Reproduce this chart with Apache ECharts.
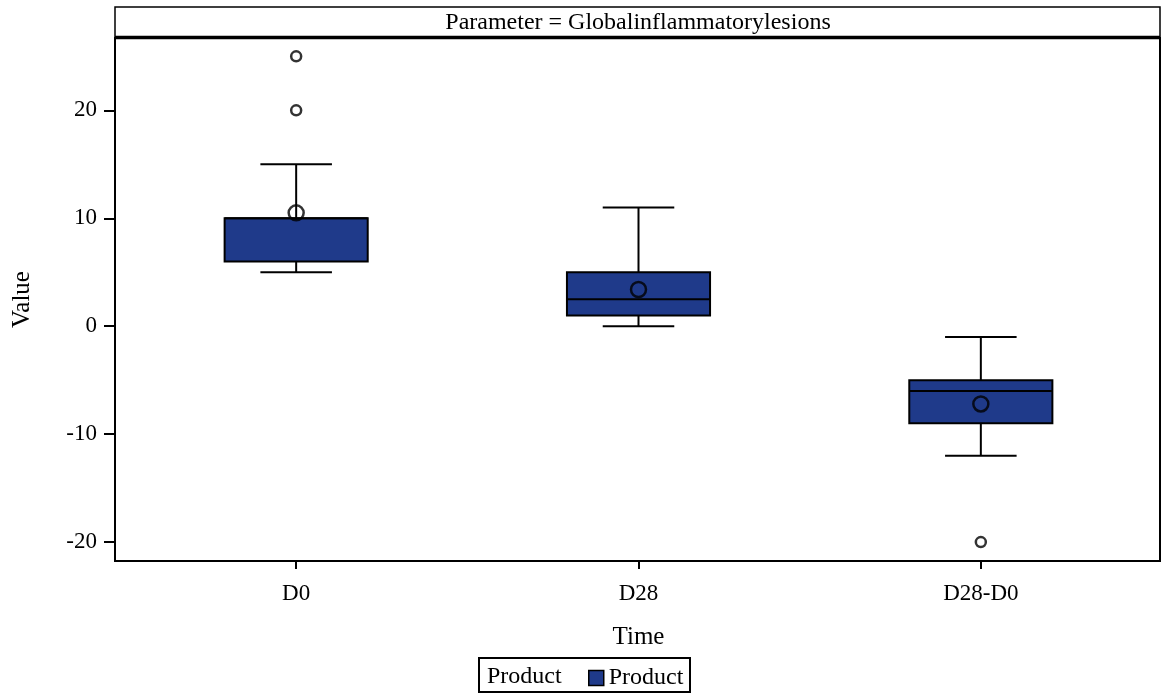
<!DOCTYPE html>
<html><head><meta charset="utf-8">
<script src="https://cdn.jsdelivr.net/npm/echarts@6/dist/echarts.min.js"></script>
<style>html,body{margin:0;padding:0;background:#fff}#c{width:1165px;height:696px}</style>
</head><body><div id="c"></div>
<script>
const categories = ['D0', 'D28', 'D28-D0'];
// [low whisker, Q1, median, Q3, high whisker]
const boxStats = [
  [5, 6, 10, 10, 15],
  [0, 1, 2.5, 5, 11],
  [-12, -9, -6, -5, -1]
];
const means = [10.5, 3.4, -7.2];
const outliers = [[0, 20], [0, 25], [2, -20]];
const yTicks = [-20, -10, 0, 10, 20];

const FONT = 'Liberation Serif';
const BOX = '#1F3A8A';
const chart = echarts.init(document.getElementById('c'));

const boxData = boxStats.map((s, i) => [i].concat(s));
const meanData = means.map((m, i) => [i, m]);

chart.setOption({
  animation: false,
  textStyle: { fontFamily: FONT, color: '#000' },
  grid: { left: 125, right: 13, top: 38, bottom: 135 },
  xAxis: {
    type: 'category', data: categories,
    axisLine: { show: false, onZero: false },
    axisTick: { show: true, alignWithLabel: true, length: 8, lineStyle: { color: '#000', width: 2 } },
    axisLabel: { fontFamily: FONT, fontSize: 23, color: '#000', margin: 21 },
    name: 'Time', nameLocation: 'middle', nameGap: 64,
    nameTextStyle: { fontFamily: FONT, fontSize: 25, color: '#000' },
    splitLine: { show: false }
  },
  yAxis: {
    type: 'value', min: -21.75, max: 26.7, offset: 10,
    axisLine: { show: true, lineStyle: { color: '#000', width: 2 } },
    axisTick: { show: true, length: 11, customValues: yTicks, lineStyle: { color: '#000', width: 2 } },
    axisLabel: { fontFamily: FONT, fontSize: 23, color: '#000', margin: 18, customValues: yTicks },
    splitLine: { show: false },
    name: 'Value', nameLocation: 'middle', nameGap: 80,
    nameTextStyle: { fontFamily: FONT, fontSize: 25, color: '#000' }
  },
  legend: {
    data: [{ name: 'Product', icon: 'rect' }],
    left: 588, top: 666, itemWidth: 15, itemHeight: 15, itemGap: 9, padding: 0,
    textStyle: { fontFamily: FONT, fontSize: 24, color: '#000' },
    itemStyle: { borderColor: '#000', borderWidth: 1.5 }
  },
  graphic: [
    { type: 'rect', shape: { x: 115, y: 38, width: 1045, height: 523 }, style: { fill: 'none', stroke: '#000', lineWidth: 2 }, z: 100, silent: true },
    { type: 'rect', shape: { x: 115, y: 7, width: 1045, height: 31 }, style: { fill: '#fff', stroke: '#000', lineWidth: 1.5 }, z: 100, silent: true },
    { type: 'line', shape: { x1: 115, y1: 37.5, x2: 1160, y2: 37.5 }, style: { stroke: '#000', lineWidth: 3.5 }, z: 101, silent: true },
    { type: 'text', x: 638, y: 23, style: { text: 'Parameter = Globalinflammatorylesions', font: '24px "Liberation Serif"', fill: '#000', align: 'center', verticalAlign: 'middle' }, z: 101, silent: true },
    { type: 'rect', shape: { x: 479, y: 658, width: 211, height: 34 }, style: { fill: 'none', stroke: '#000', lineWidth: 2 }, z: 100, silent: true },
    { type: 'text', x: 487, y: 677, style: { text: 'Product', font: '24px "Liberation Serif"', fill: '#000', align: 'left', verticalAlign: 'middle' }, z: 100, silent: true }
  ],
  series: [
    {
      name: 'Product', type: 'custom', data: boxData,
      itemStyle: { color: BOX },
      encode: { x: 0, y: [1, 2, 3, 4, 5] },
      renderItem: function (params, api) {
        const x = api.value(0);
        const pLow = api.coord([x, api.value(1)]);
        const pQ1 = api.coord([x, api.value(2)]);
        const pMed = api.coord([x, api.value(3)]);
        const pQ3 = api.coord([x, api.value(4)]);
        const pHigh = api.coord([x, api.value(5)]);
        const band = api.size([1, 0])[0];
        const bw = band * 0.418;
        const cw = bw * 0.5;
        const cx = pQ1[0];
        const ls = { stroke: '#000', lineWidth: 2 };
        return {
          type: 'group',
          children: [
            { type: 'line', shape: { x1: cx, y1: pQ3[1], x2: cx, y2: pHigh[1] }, style: ls },
            { type: 'line', shape: { x1: cx, y1: pQ1[1], x2: cx, y2: pLow[1] }, style: ls },
            { type: 'line', shape: { x1: cx - cw / 2, y1: pHigh[1], x2: cx + cw / 2, y2: pHigh[1] }, style: ls },
            { type: 'line', shape: { x1: cx - cw / 2, y1: pLow[1], x2: cx + cw / 2, y2: pLow[1] }, style: ls },
            { type: 'rect', shape: { x: cx - bw / 2, y: pQ3[1], width: bw, height: pQ1[1] - pQ3[1] }, style: { fill: BOX, stroke: '#000', lineWidth: 2 } },
            { type: 'line', shape: { x1: cx - bw / 2, y1: pMed[1], x2: cx + bw / 2, y2: pMed[1] }, style: ls }
          ]
        };
      },
      z: 2
    },
    {
      name: 'Mean', type: 'scatter', data: meanData, symbol: 'circle', symbolSize: 15,
      itemStyle: { color: 'rgba(0,0,0,0)', borderColor: '#000', borderWidth: 2.5 }, z: 5
    },
    {
      name: 'Outlier', type: 'scatter', data: outliers, symbol: 'circle', symbolSize: 10,
      itemStyle: { color: '#fff', borderColor: '#000', borderWidth: 2.5 }, z: 5
    }
  ]
});
</script></body></html>
